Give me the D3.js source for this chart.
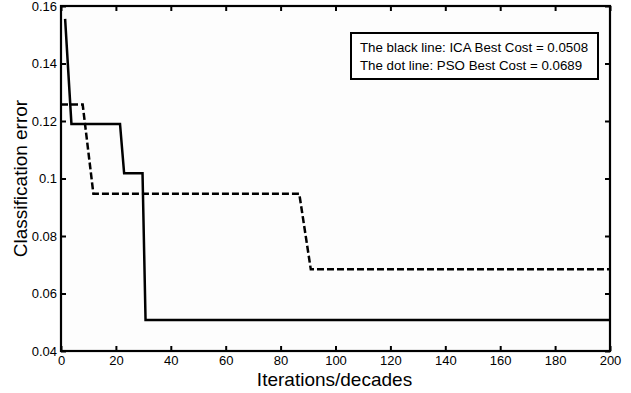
<!DOCTYPE html>
<html><head><meta charset="utf-8">
<script src="https://cdn.jsdelivr.net/npm/d3@7"></script>
<style>body{margin:0;background:#fff}svg{display:block}text{font-family:"Liberation Sans",Arial,sans-serif;fill:#000}</style>
</head><body><svg id="c" width="631" height="393"></svg>
<script>
const xTicks = [0,20,40,60,80,100,120,140,160,180,200];
const yTicks = [0.04,0.06,0.08,0.1,0.12,0.14,0.16];
const yTickLabels = ["0.04","0.06","0.08","0.1","0.12","0.14","0.16"];
// ICA (black solid line): [iteration, error]
const icaIter = [1.5, 3.8, 21.5, 23, 29.7, 30.8, 200];
const icaErr  = [0.1555, 0.119, 0.119, 0.1018, 0.1018, 0.0508, 0.0508];
// PSO (dashed line)
const psoIter = [0, 7.9, 11.8, 86.8, 91, 200];
const psoErr  = [0.1257, 0.1257, 0.0947, 0.0947, 0.0684, 0.0684];
const legendLines = ["The black line: ICA Best Cost = 0.0508","The dot line: PSO Best Cost = 0.0689"];

const svg = d3.select("#c");
const L=61, R=610, T=6, B=351;
const x = d3.scaleLinear().domain([0,200]).range([L,R]);
const y = d3.scaleLinear().domain([0.04,0.16]).range([B,T]);

svg.append("rect").attr("x",L).attr("y",T).attr("width",R-L).attr("height",B-T).attr("fill","#fdfdfd");

const tl = 5;
const gx = svg.append("g").attr("transform",`translate(0,${B})`)
  .call(d3.axisBottom(x).tickValues(xTicks).tickSize(-tl).tickPadding(5).tickFormat(d3.format("d")));
const gxt = svg.append("g").attr("transform",`translate(0,${T})`)
  .call(d3.axisTop(x).tickValues(xTicks).tickSize(-tl).tickFormat(""));
const gy = svg.append("g").attr("transform",`translate(${L},0)`)
  .call(d3.axisLeft(y).tickValues(yTicks).tickSize(-tl).tickPadding(4).tickFormat((d,i)=>yTickLabels[i]));
const gyr = svg.append("g").attr("transform",`translate(${R},0)`)
  .call(d3.axisRight(y).tickValues(yTicks).tickSize(-tl).tickFormat(""));
[gx,gxt,gy,gyr].forEach(g=>{
  g.selectAll(".domain").remove();
  g.selectAll(".tick line").attr("stroke","#000").attr("stroke-width",2);
  g.selectAll("text").attr("font-size",13).attr("font-family","Liberation Sans, Arial, sans-serif");
});
svg.append("rect").attr("x",L).attr("y",T).attr("width",R-L).attr("height",B-T)
  .attr("fill","none").attr("stroke","#000").attr("stroke-width",2.2);

const line = d3.line().x(d=>x(d[0])).y(d=>y(d[1]));
svg.append("path").datum(icaIter.map((v,i)=>[v,icaErr[i]]))
  .attr("d",line).attr("fill","none").attr("stroke","#000").attr("stroke-width",2.5);
svg.append("path").datum(psoIter.map((v,i)=>[v,psoErr[i]]))
  .attr("d",line).attr("fill","none").attr("stroke","#000").attr("stroke-width",2.5).attr("stroke-dasharray","7,3");

// legend
svg.append("rect").attr("x",351).attr("y",33).attr("width",247).attr("height",46)
  .attr("fill","#fff").attr("stroke","#000").attr("stroke-width",2);
legendLines.forEach((t,i)=>{
  svg.append("text").attr("x",360).attr("y",52+i*18).attr("font-size",13.3).text(t);
});

svg.append("text").attr("x",(L+R)/2 - 1).attr("y",386).attr("text-anchor","middle").attr("font-size",19).text("Iterations/decades");
svg.append("text").attr("transform",`translate(27,${(T+B)/2}) rotate(-90)`).attr("text-anchor","middle").attr("font-size",19).text("Classification error");
</script></body></html>
